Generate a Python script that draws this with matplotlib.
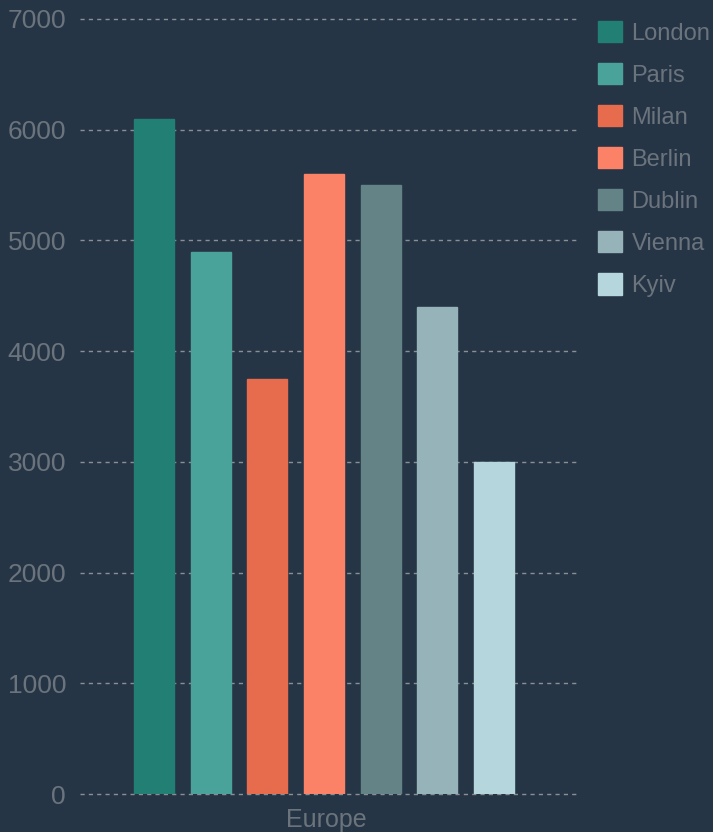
import matplotlib
matplotlib.use("Agg")
import matplotlib.pyplot as plt
import numpy as np

categories = ["Europe"]
cities = ["London", "Paris", "Milan", "Berlin", "Dublin", "Vienna", "Kyiv"]
values = [6100, 4900, 3750, 5600, 5500, 4400, 3000]
colors = ["#217f73", "#4aa39a", "#e76b4d", "#fb8266", "#638387", "#95b3b8", "#b4d6dc"]
yticks = [0, 1000, 2000, 3000, 4000, 5000, 6000, 7000]

BG = "#263545"
TXT = "#6b747d"

plt.rcParams['font.family'] = ['Liberation Sans', 'DejaVu Sans']

fig = plt.figure(figsize=(7.13, 8.32), dpi=100, facecolor=BG)
ax = fig.add_axes([80/713, 38/832, (578-80)/713, (794-19)/832])
ax.set_facecolor(BG)

n = len(cities)
bw = 40/498
step = 56.7/498
x0 = 0.49 - (n-1)/2*step
for i, (c, v, col) in enumerate(zip(cities, values, colors)):
    ax.bar(x0 + i*step, v, width=bw, color=col, label=c,
           edgecolor=col, linewidth=1.0, zorder=3)

ax.set_xlim(0, 1)
ax.set_ylim(0, 7000)
ax.set_yticks(yticks)
ax.set_xticks([0.495])
ax.set_xticklabels(categories)
ax.yaxis.grid(True, linestyle=(0, (3, 3)), color="#8a8f94", linewidth=1.0, zorder=0)
for gl in ax.get_ygridlines():
    gl.set_clip_on(False)
ax.tick_params(axis='y', length=0, pad=10, labelsize=19, labelcolor=TXT)
ax.tick_params(axis='x', length=0, pad=10, labelsize=18, labelcolor=TXT)
for s in ax.spines.values():
    s.set_visible(False)

leg = ax.legend(loc="upper left", bbox_to_anchor=(598/713, 1 - 21/832),
                bbox_transform=fig.transFigure, frameon=False, fontsize=17,
                handlelength=1.0, handleheight=1.0, handletextpad=0.42,
                labelspacing=0.78, borderaxespad=0, borderpad=0)
for t in leg.get_texts():
    t.set_color(TXT)

fig.savefig("out.png", dpi=100, facecolor=BG)
